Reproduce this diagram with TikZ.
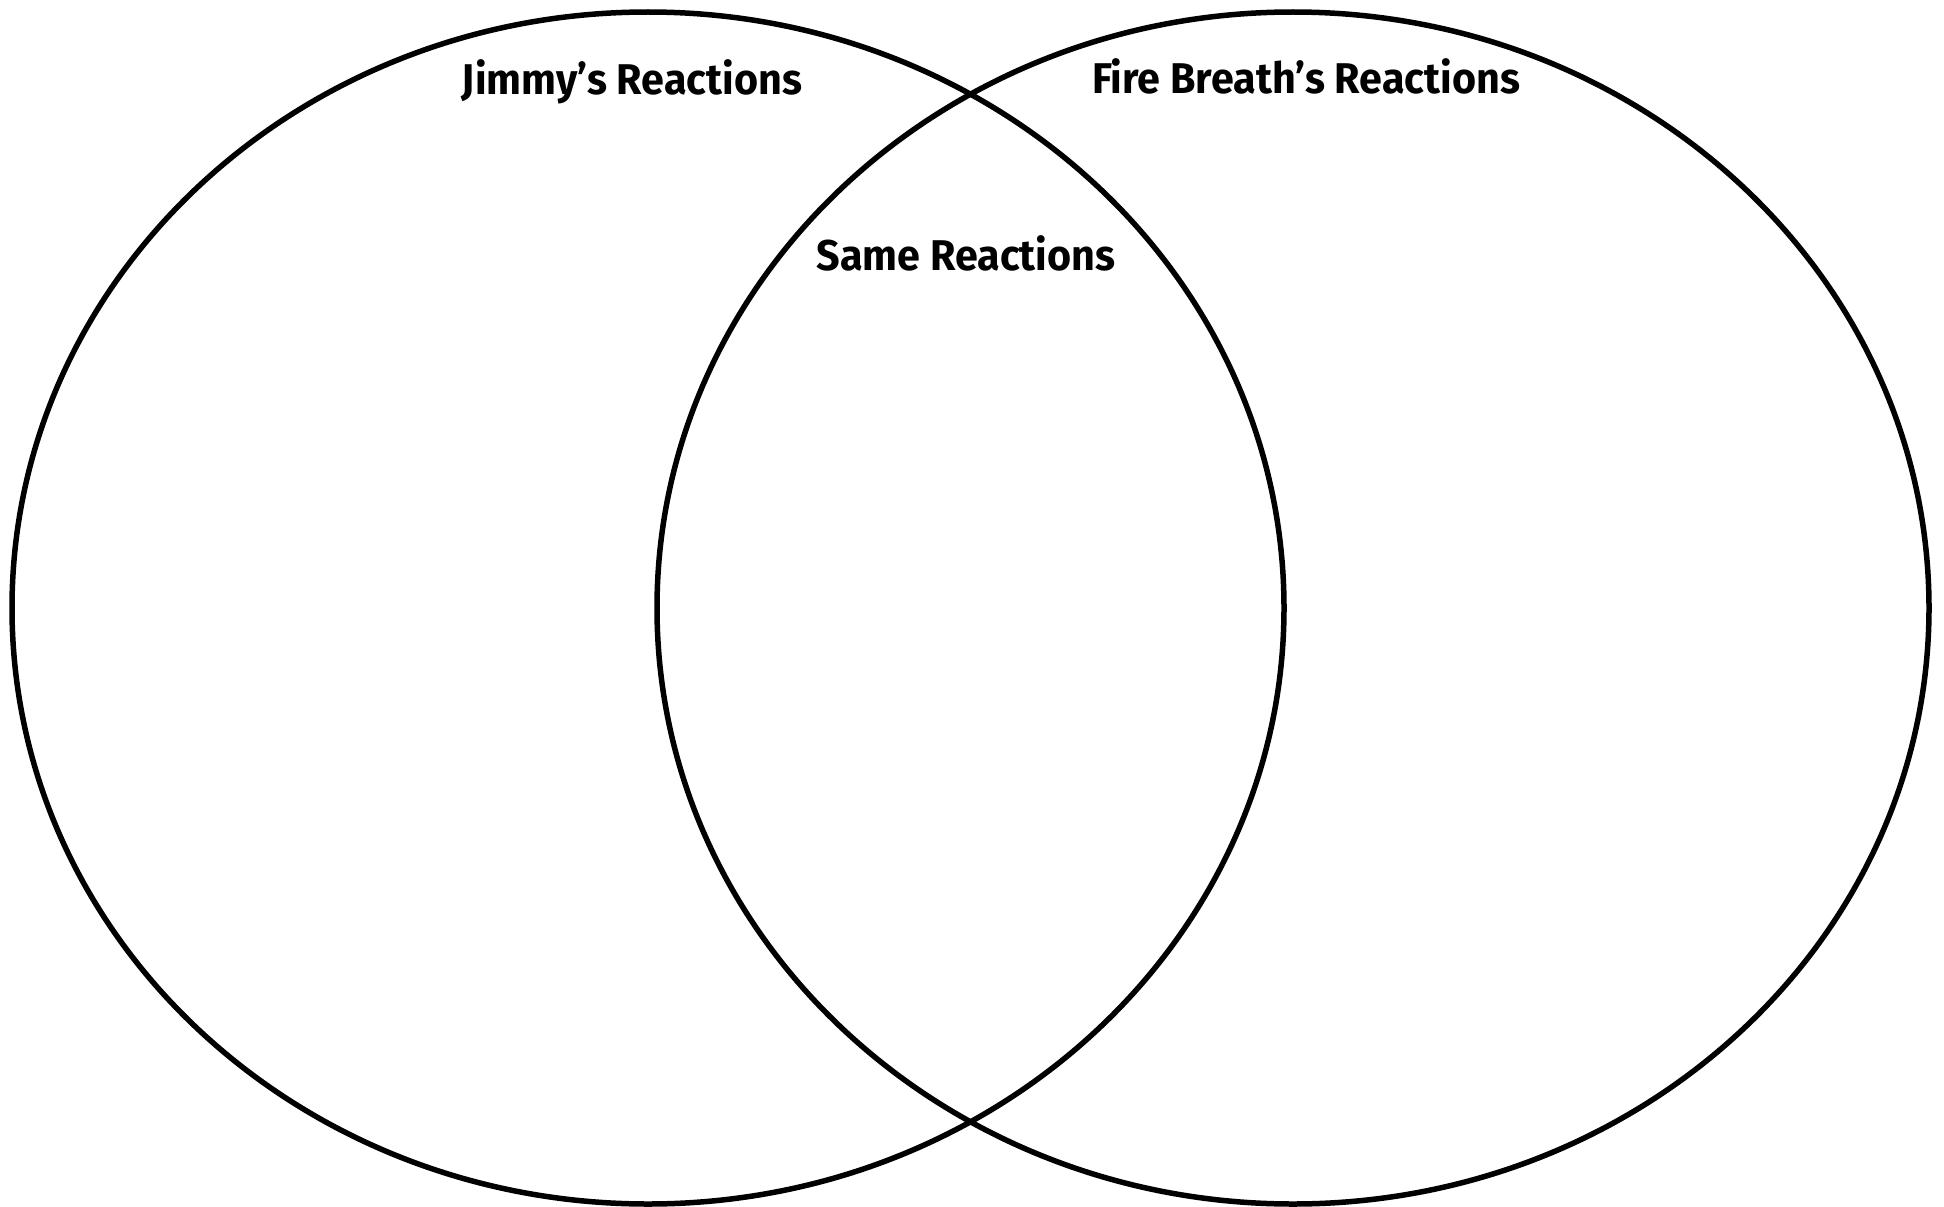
\documentclass[tikz,border=0pt]{standalone}
\usepackage{fontspec}
\setmainfont{Fira Sans}
\begin{document}
\begin{tikzpicture}[x=1pt,y=-1pt,
  venn/.style={draw=black,line width=5.5pt},
  lbl/.style={anchor=base,inner sep=0pt,xscale=0.96,font=\fontsize{43}{50}\selectfont\bfseries}]
\useasboundingbox (0,0) rectangle (1944,1207);
\draw[venn] (648,608) ellipse [x radius=636, y radius=596];
\draw[venn] (1293,608) ellipse [x radius=636, y radius=596];
\node[lbl] (jimmy) at (632,95) {Jimmy’s Reactions};
\node[lbl] (fire) at (1306,93) {Fire Breath’s Reactions};
\node[lbl] (same) at (966,270) {Same Reactions};
\end{tikzpicture}
\end{document}
